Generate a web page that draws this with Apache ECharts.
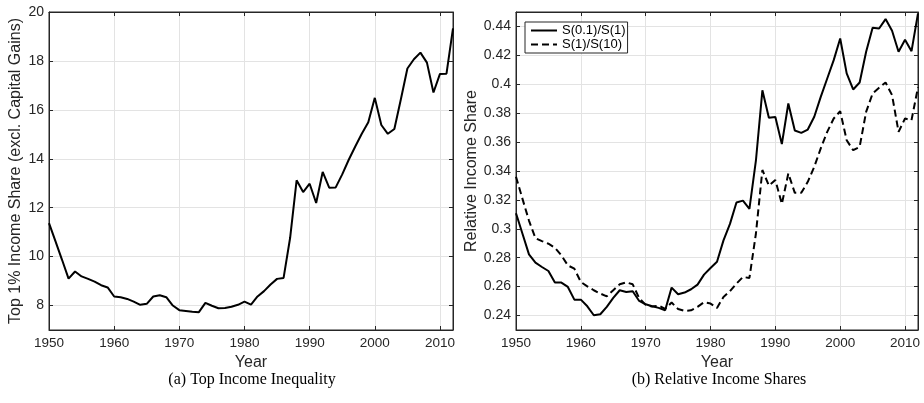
<!DOCTYPE html>
<html lang="en">
<head>
    <meta charset="utf-8">
    <title>Top income inequality / relative income shares</title>
    <script type="text/javascript" src="https://cdn.jsdelivr.net/npm/echarts@6/dist/echarts.min.js"></script>
    <style>
        html, body {margin: 0; padding: 0; background: #fff;}
        #chart {width: 924px; height: 403px;}
    </style>
</head>
<body>
<div id="chart"></div>
<script type="text/javascript">
    // years on the x axis
    var years = [1950, 1951, 1952, 1953, 1954, 1955, 1956, 1957, 1958, 1959,
        1960, 1961, 1962, 1963, 1964, 1965, 1966, 1967, 1968, 1969,
        1970, 1971, 1972, 1973, 1974, 1975, 1976, 1977, 1978, 1979,
        1980, 1981, 1982, 1983, 1984, 1985, 1986, 1987, 1988, 1989,
        1990, 1991, 1992, 1993, 1994, 1995, 1996, 1997, 1998, 1999,
        2000, 2001, 2002, 2003, 2004, 2005, 2006, 2007, 2008, 2009,
        2010, 2011, 2012];
    var yearTicks = [1950, 1960, 1970, 1980, 1990, 2000, 2010];

    // (a) top 1% income share, excl. capital gains
    var top1Share = [11.37, 10.62, 9.87, 9.10, 9.39, 9.19, 9.09, 8.98, 8.83, 8.74,
        8.37, 8.34, 8.27, 8.16, 8.03, 8.07, 8.37, 8.42, 8.34, 8.00,
        7.81, 7.78, 7.75, 7.73, 8.11, 7.99, 7.89, 7.90, 7.95, 8.03,
        8.16, 8.04, 8.37, 8.59, 8.86, 9.09, 9.13, 10.76, 13.12, 12.64,
        12.98, 12.19, 13.46, 12.82, 12.83, 13.36, 13.96, 14.50, 15.02, 15.49,
        16.49, 15.38, 15.02, 15.22, 16.43, 17.69, 18.07, 18.34, 17.93, 16.71,
        17.47, 17.48, 19.33];

    // (b) S(0.1)/S(1)
    var ratioTop = [0.3108, 0.2966, 0.2823, 0.2766, 0.2736, 0.2708, 0.2628, 0.2628, 0.2598, 0.2510,
        0.2510, 0.2464, 0.2402, 0.2409, 0.2460, 0.2522, 0.2575, 0.2563, 0.2568, 0.2501,
        0.2478, 0.2464, 0.2453, 0.2437, 0.2593, 0.2547, 0.2559, 0.2582, 0.2614, 0.2683,
        0.2729, 0.2772, 0.2920, 0.3034, 0.3182, 0.3195, 0.3138, 0.3471, 0.3958, 0.3768,
        0.3773, 0.3586, 0.3867, 0.3680, 0.3664, 0.3687, 0.3775, 0.3913, 0.4040, 0.4167,
        0.4317, 0.4075, 0.3964, 0.4012, 0.4225, 0.4391, 0.4386, 0.4451, 0.4370, 0.4225,
        0.4308, 0.4229, 0.4490];

    // (b) S(1)/S(10)
    var ratioBottom = [0.3360, 0.3207, 0.3057, 0.2935, 0.2915, 0.2897, 0.2869, 0.2816, 0.2747, 0.2724,
        0.2632, 0.2602, 0.2575, 0.2552, 0.2533, 0.2575, 0.2616, 0.2630, 0.2616, 0.2520,
        0.2474, 0.2462, 0.2469, 0.2446, 0.2490, 0.2445, 0.2432, 0.2436, 0.2460, 0.2492,
        0.2483, 0.2453, 0.2529, 0.2568, 0.2621, 0.2667, 0.2660, 0.2966, 0.3407, 0.3299,
        0.3338, 0.3172, 0.3383, 0.3249, 0.3249, 0.3325, 0.3429, 0.3556, 0.3671, 0.3763,
        0.3814, 0.3613, 0.3544, 0.3567, 0.3809, 0.3936, 0.3976, 0.4012, 0.3925, 0.3671,
        0.3763, 0.3752, 0.3980];

    var seriesNames = ['S(0.1)/S(1)', 'S(1)/S(10)'];
    var captions = ['(a) Top Income Inequality', '(b) Relative Income Shares'];

    function pairs(vals) {
        var out = [];
        for (var i = 0; i < years.length; i++) out.push([years[i], vals[i]]);
        return out;
    }

    var axisColor = '#262626';
    var gridColor = '#e3e3e3';
    var font = 'Liberation Sans, Arial, Helvetica, sans-serif';

    // x axis (bottom with labels, top only ticks)
    function xAxis(gridIndex, bottom) {
        return {
            type: 'value', gridIndex: gridIndex,
            position: bottom ? 'bottom' : 'top',
            min: 1950, max: 2012, interval: 10,
            name: bottom ? 'Year' : '',
            nameLocation: 'middle', nameGap: 17,
            nameTextStyle: {color: axisColor, fontSize: 16, fontFamily: font},
            axisLine: {show: true, lineStyle: {color: axisColor, width: 1}},
            axisTick: {show: true, inside: true, length: 4, customValues: yearTicks, lineStyle: {color: axisColor}},
            axisLabel: {
                show: bottom, margin: 6, color: axisColor, fontSize: 13.5, fontFamily: font,
                customValues: yearTicks, hideOverlap: false, overflow: 'none',
                formatter: function (v) { return String(v); }
            },
            splitLine: {show: bottom, lineStyle: {color: gridColor, width: 1}}
        };
    }

    // y axis (left with labels, right only ticks)
    function yAxis(gridIndex, left, min, max, step, name, gap) {
        return {
            type: 'value', gridIndex: gridIndex,
            position: left ? 'left' : 'right',
            min: min, max: max, minInterval: step, maxInterval: step, splitNumber: 7,
            name: left ? name : '',
            nameLocation: 'middle', nameGap: gap,
            nameTextStyle: {color: axisColor, fontSize: 16, fontFamily: font},
            axisLine: {show: true, lineStyle: {color: axisColor, width: 1}},
            axisTick: {show: true, inside: true, length: 4, lineStyle: {color: axisColor}},
            axisLabel: {
                show: left, margin: 5, color: axisColor, fontSize: 14, fontFamily: font,
                formatter: function (v) {
                    var k = v / step;
                    if (Math.abs(k - Math.round(k)) > 1e-6) return '';
                    return String(+v.toFixed(2));
                }
            },
            splitLine: {show: left, lineStyle: {color: gridColor, width: 1}}
        };
    }

    var chart = echarts.init(document.getElementById('chart'), null, {renderer: 'canvas'});

    var option = {
        animation: false,
        backgroundColor: '#ffffff',
        grid: [
            {left: 49, top: 12, width: 404, height: 318, show: true, borderColor: axisColor, borderWidth: 1,
                containLabel: false, outerBoundsMode: 'none'},
            {left: 516, top: 12, width: 402, height: 318, show: true, borderColor: axisColor, borderWidth: 1,
                containLabel: false, outerBoundsMode: 'none'}
        ],
        xAxis: [xAxis(0, true), xAxis(0, false), xAxis(1, true), xAxis(1, false)],
        yAxis: [
            yAxis(0, true, 7, 20, 2, 'Top 1% Income Share (excl. Capital Gains)', 25),
            yAxis(0, false, 7, 20, 2, '', 0),
            yAxis(1, true, 0.23, 0.45, 0.02, 'Relative Income Share', 32),
            yAxis(1, false, 0.23, 0.45, 0.02, '', 0)
        ],
        legend: {
            data: seriesNames,
            orient: 'vertical',
            left: 525, top: 22,
            padding: [2, 2, 2, 5],
            itemGap: 1,
            itemWidth: 26, itemHeight: 12,
            backgroundColor: '#ffffff',
            borderColor: axisColor, borderWidth: 1, borderRadius: 0,
            itemStyle: {opacity: 0},
            textStyle: {color: '#000', fontSize: 13, fontFamily: font}
        },
        series: [
            {
                name: 'top1', type: 'line', xAxisIndex: 0, yAxisIndex: 0,
                data: pairs(top1Share), showSymbol: false, symbol: 'none',
                lineStyle: {color: '#000', width: 2}
            },
            {
                name: seriesNames[0], type: 'line', xAxisIndex: 2, yAxisIndex: 2,
                data: pairs(ratioTop), showSymbol: false, symbol: 'none',
                itemStyle: {color: '#000'},
                lineStyle: {color: '#000', width: 2}
            },
            {
                name: seriesNames[1], type: 'line', xAxisIndex: 2, yAxisIndex: 2,
                data: pairs(ratioBottom), showSymbol: false, symbol: 'none',
                itemStyle: {color: '#000'},
                lineStyle: {color: '#000', width: 2, type: [7, 4]}
            }
        ],
        graphic: [
            {type: 'text', x: 252, y: 380, style: {text: captions[0], textAlign: 'center', textVerticalAlign: 'middle', fill: '#000', font: '16px "Liberation Serif", "Times New Roman", serif'}},
            {type: 'text', x: 719, y: 380, style: {text: captions[1], textAlign: 'center', textVerticalAlign: 'middle', fill: '#000', font: '16px "Liberation Serif", "Times New Roman", serif'}}
        ]
    };

    chart.setOption(option);
</script>
</body>
</html>
